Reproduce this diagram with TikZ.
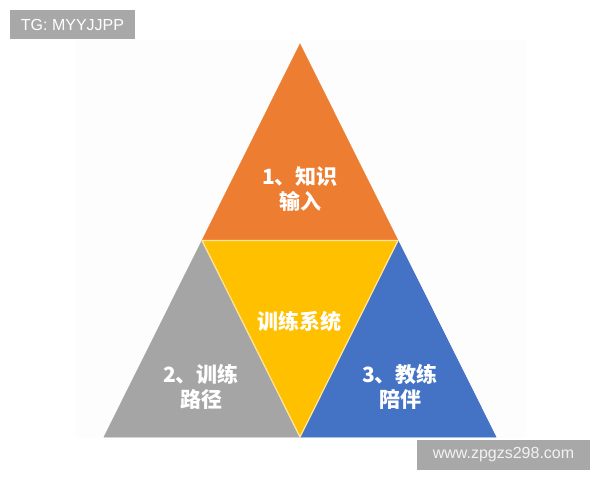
\documentclass[tikz,border=0pt]{standalone}
\usepackage{fontspec}
\setmainfont{Liberation Sans}
\newfontfamily\cjk{Noto Sans CJK SC}
\definecolor{knowOrange}{HTML}{ED7D31}
\definecolor{pathGray}{HTML}{A5A5A5}
\definecolor{coreYellow}{HTML}{FFC000}
\definecolor{coachBlue}{HTML}{4472C4}
\definecolor{edgeYellow}{HTML}{FFE699}
\definecolor{tagGray}{HTML}{A8A8A8}
\definecolor{paper}{HTML}{FDFDFE}
\begin{document}
\begin{tikzpicture}[x=1pt,y=-1pt,
    piece/.style={draw=white,line width=0.6pt,line join=miter},
    label/.style={text=white,align=center,font=\cjk\bfseries\fontsize{21}{25}\selectfont},
    tag/.style={fill=tagGray,text=white,inner sep=0pt,font=\fontsize{16}{16}\selectfont}
    ]
        \useasboundingbox (0,0) rectangle (600,480);
        \fill[paper] (75,40) rectangle (527,438);

        \coordinate (apex) at (300,44);
        \coordinate (leftFoot) at (104,437);
        \coordinate (rightFoot) at (496,437);
        \coordinate (midLeft) at (202,240.5);
        \coordinate (midRight) at (398,240.5);
        \coordinate (midBase) at (300,437);

        \fill[piece,knowOrange] (apex) -- (midLeft) -- (midRight) -- cycle;
        \fill[piece,pathGray] (midLeft) -- (leftFoot) -- (midBase) -- cycle;
        \fill[piece,coachBlue] (midRight) -- (midBase) -- (rightFoot) -- cycle;
        \filldraw[coreYellow,draw=edgeYellow,line width=1.2pt] (midLeft) -- (midRight) -- (midBase) -- cycle;

        \node[label] (knowledge) at (300,189) {1、知识\\输入};
        \node[label] (route) at (201,387) {2、训练\\路径};
        \node[label] (coach) at (400,387) {3、教练\\陪伴};
        \node[label] (system) at (299,321) {训练系统};

        \node[tag,minimum width=125pt,minimum height=29pt] (tgTag) at (72.5,24.5) {TG: MYYJJPP};
        \node[tag,minimum width=173pt,minimum height=30pt,text=white!95!black] (siteTag) at (503.5,455) {www.zpgzs298.com};
    \end{tikzpicture}
\end{document}
